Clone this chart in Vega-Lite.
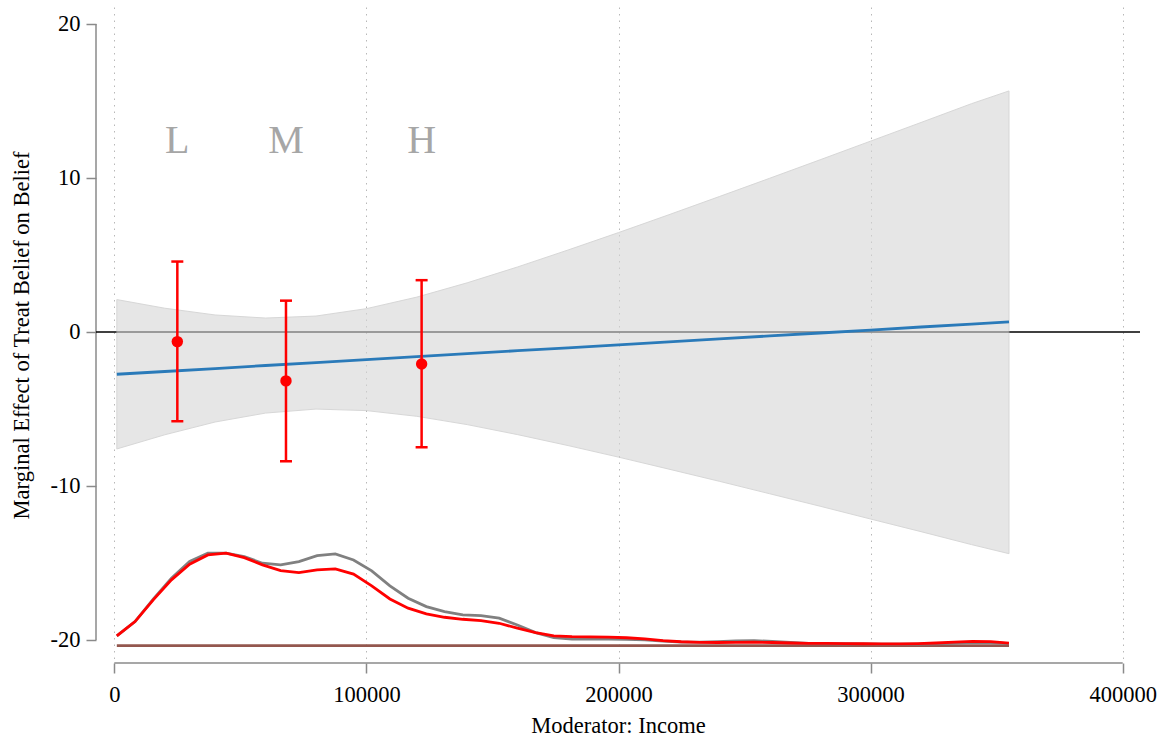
{
  "$schema": "https://vega.github.io/schema/vega-lite/v6.json",
  "autosize": {"type": "none"},
  "padding": {"left": 96, "top": 7, "right": 25, "bottom": 77},
  "width": 1044,
  "height": 656,
  "background": "white",
  "config": {
    "view": {"stroke": null},
    "axis": {
      "domain": false,
      "tickColor": "#8a8a8a",
      "tickWidth": 1.5,
      "tickSize": 10,
      "labelFont": "Liberation Serif",
      "labelFontSize": 22.5,
      "labelColor": "#000000",
      "titleFont": "Liberation Serif",
      "titleFontSize": 22.5,
      "titleFontWeight": "normal",
      "titleColor": "#000000"
    }
  },
  "datasets": {
    "band": [
      {"income": 1000, "lo": -7.60, "hi": 2.10, "est": -2.75},
      {"income": 20000, "lo": -6.68, "hi": 1.54, "est": -2.57},
      {"income": 40000, "lo": -5.85, "hi": 1.10, "est": -2.38},
      {"income": 60000, "lo": -5.27, "hi": 0.90, "est": -2.18},
      {"income": 80000, "lo": -5.01, "hi": 1.03, "est": -1.99},
      {"income": 100000, "lo": -5.11, "hi": 1.51, "est": -1.80},
      {"income": 120000, "lo": -5.48, "hi": 2.26, "est": -1.61},
      {"income": 140000, "lo": -6.02, "hi": 3.19, "est": -1.41},
      {"income": 160000, "lo": -6.67, "hi": 4.22, "est": -1.22},
      {"income": 180000, "lo": -7.38, "hi": 5.32, "est": -1.03},
      {"income": 200000, "lo": -8.13, "hi": 6.45, "est": -0.84},
      {"income": 220000, "lo": -8.91, "hi": 7.61, "est": -0.65},
      {"income": 240000, "lo": -9.70, "hi": 8.79, "est": -0.45},
      {"income": 260000, "lo": -10.51, "hi": 9.98, "est": -0.26},
      {"income": 280000, "lo": -11.32, "hi": 11.18, "est": -0.07},
      {"income": 300000, "lo": -12.15, "hi": 12.39, "est": 0.12},
      {"income": 320000, "lo": -12.97, "hi": 13.60, "est": 0.32},
      {"income": 340000, "lo": -13.81, "hi": 14.82, "est": 0.51},
      {"income": 354900, "lo": -14.40, "hi": 15.65, "est": 0.65}
    ],
    "bins": [
      {"label": "L", "income": 25000, "est": -0.63, "lo": -5.80, "hi": 4.57},
      {"label": "M", "income": 68100, "est": -3.18, "lo": -8.40, "hi": 2.03},
      {"label": "H", "income": 121900, "est": -2.08, "lo": -7.49, "hi": 3.36}
    ],
    "dens": [
      {"income": 1000, "all": -19.74, "sub": -19.74},
      {"income": 8222, "all": -18.81, "sub": -18.81},
      {"income": 15444, "all": -17.35, "sub": -17.40},
      {"income": 22666, "all": -16.00, "sub": -16.10},
      {"income": 29888, "all": -14.91, "sub": -15.08},
      {"income": 37110, "all": -14.37, "sub": -14.48},
      {"income": 44332, "all": -14.37, "sub": -14.37},
      {"income": 51554, "all": -14.59, "sub": -14.66},
      {"income": 58776, "all": -15.02, "sub": -15.13},
      {"income": 65998, "all": -15.13, "sub": -15.50},
      {"income": 73220, "all": -14.91, "sub": -15.63},
      {"income": 80442, "all": -14.53, "sub": -15.45},
      {"income": 87664, "all": -14.42, "sub": -15.39},
      {"income": 94886, "all": -14.81, "sub": -15.73},
      {"income": 102108, "all": -15.52, "sub": -16.49},
      {"income": 109330, "all": -16.49, "sub": -17.34},
      {"income": 116552, "all": -17.29, "sub": -17.94},
      {"income": 123774, "all": -17.84, "sub": -18.31},
      {"income": 130996, "all": -18.16, "sub": -18.53},
      {"income": 138218, "all": -18.38, "sub": -18.66},
      {"income": 145440, "all": -18.42, "sub": -18.75},
      {"income": 152662, "all": -18.59, "sub": -18.92},
      {"income": 159884, "all": -19.03, "sub": -19.24},
      {"income": 167106, "all": -19.53, "sub": -19.53},
      {"income": 174328, "all": -19.85, "sub": -19.74},
      {"income": 181550, "all": -19.94, "sub": -19.79},
      {"income": 188772, "all": -19.95, "sub": -19.80},
      {"income": 195994, "all": -19.95, "sub": -19.82},
      {"income": 203216, "all": -19.97, "sub": -19.86},
      {"income": 210438, "all": -20.00, "sub": -19.93},
      {"income": 217660, "all": -20.08, "sub": -20.05},
      {"income": 224882, "all": -20.14, "sub": -20.12},
      {"income": 232104, "all": -20.15, "sub": -20.16},
      {"income": 239326, "all": -20.12, "sub": -20.17},
      {"income": 246548, "all": -20.07, "sub": -20.16},
      {"income": 253770, "all": -20.05, "sub": -20.15},
      {"income": 260992, "all": -20.10, "sub": -20.17},
      {"income": 268214, "all": -20.17, "sub": -20.20},
      {"income": 275436, "all": -20.22, "sub": -20.22},
      {"income": 282658, "all": -20.24, "sub": -20.23},
      {"income": 289880, "all": -20.25, "sub": -20.24},
      {"income": 297102, "all": -20.26, "sub": -20.25},
      {"income": 304324, "all": -20.27, "sub": -20.26},
      {"income": 311546, "all": -20.27, "sub": -20.26},
      {"income": 318768, "all": -20.27, "sub": -20.24},
      {"income": 325990, "all": -20.25, "sub": -20.20},
      {"income": 333212, "all": -20.20, "sub": -20.14},
      {"income": 340434, "all": -20.16, "sub": -20.10},
      {"income": 347656, "all": -20.17, "sub": -20.11},
      {"income": 354878, "all": -20.24, "sub": -20.21}
    ],
    "base": [
      {"income": 1000, "level": -20.37},
      {"income": 354900, "level": -20.37}
    ],
    "one": [{"id": 1}]
  },
  "layer": [
    {
      "data": {"name": "band"},
      "mark": {"type": "rule", "color": "#000000", "strokeWidth": 1.5, "opacity": 0},
      "encoding": {
        "x": {
          "field": "income", "type": "quantitative",
          "scale": {"domain": [-7260, 406860], "nice": false, "zero": false},
          "axis": {
            "title": "Moderator: Income",
            "values": [0, 100000, 200000, 300000, 400000],
            "format": "d",
            "grid": true,
            "gridDash": [1.5, 5],
            "gridColor": "#b8b8b8",
            "gridWidth": 1,
            "labelPadding": 10,
            "titlePadding": 9
          }
        },
        "y": {
          "field": "est", "type": "quantitative",
          "scale": {"domain": [-21.5, 21.1], "nice": false, "zero": false},
          "axis": {
            "title": "Marginal Effect of Treat Belief on Belief",
            "values": [-20, -10, 0, 10, 20],
            "labelExpr": "'' + datum.value",
            "grid": false,
            "labelPadding": 6,
            "titlePadding": 17
          }
        }
      }
    },
    {
      "data": {"name": "one"},
      "mark": {"type": "rule", "color": "#8a8a8a", "strokeWidth": 1.5},
      "encoding": {
        "x": {"datum": -7260, "type": "quantitative"},
        "y": {"datum": -20, "type": "quantitative"},
        "y2": {"datum": 20}
      }
    },
    {
      "data": {"name": "one"},
      "mark": {"type": "rule", "color": "#8a8a8a", "strokeWidth": 1.5},
      "encoding": {
        "x": {"datum": 0, "type": "quantitative"},
        "x2": {"datum": 400000},
        "y": {"datum": -21.5, "type": "quantitative"}
      }
    },
    {
      "data": {"name": "one"},
      "mark": {"type": "rule", "color": "#000000", "strokeWidth": 1.5},
      "encoding": {
        "x": {"datum": -7260, "type": "quantitative"},
        "x2": {"datum": 406860},
        "y": {"datum": 0, "type": "quantitative"}
      }
    },
    {
      "data": {"name": "band"},
      "mark": {"type": "area", "color": "#d6d6d6", "opacity": 0.6, "stroke": "#bdbdbd", "strokeWidth": 1},
      "encoding": {
        "x": {"field": "income", "type": "quantitative"},
        "y": {"field": "lo", "type": "quantitative"},
        "y2": {"field": "hi"}
      }
    },
    {
      "data": {"name": "band"},
      "mark": {"type": "line", "color": "#2a7ab9", "strokeWidth": 2.8},
      "encoding": {
        "x": {"field": "income", "type": "quantitative"},
        "y": {"field": "est", "type": "quantitative"}
      }
    },
    {
      "data": {"name": "bins"},
      "mark": {"type": "rule", "color": "#ff0000", "strokeWidth": 2.5},
      "encoding": {
        "x": {"field": "income", "type": "quantitative"},
        "y": {"field": "lo", "type": "quantitative"},
        "y2": {"field": "hi"}
      }
    },
    {
      "data": {"name": "bins"},
      "mark": {"type": "tick", "orient": "horizontal", "color": "#ff0000", "size": 12, "thickness": 2.5, "opacity": 1},
      "encoding": {
        "x": {"field": "income", "type": "quantitative"},
        "y": {"field": "lo", "type": "quantitative"}
      }
    },
    {
      "data": {"name": "bins"},
      "mark": {"type": "tick", "orient": "horizontal", "color": "#ff0000", "size": 12, "thickness": 2.5, "opacity": 1},
      "encoding": {
        "x": {"field": "income", "type": "quantitative"},
        "y": {"field": "hi", "type": "quantitative"}
      }
    },
    {
      "data": {"name": "bins"},
      "mark": {"type": "circle", "color": "#ff0000", "size": 130, "opacity": 1},
      "encoding": {
        "x": {"field": "income", "type": "quantitative"},
        "y": {"field": "est", "type": "quantitative"}
      }
    },
    {
      "data": {"name": "bins"},
      "mark": {"type": "text", "font": "Liberation Serif", "fontSize": 40, "color": "#a6a6a6", "baseline": "alphabetic", "align": "center"},
      "encoding": {
        "x": {"field": "income", "type": "quantitative"},
        "y": {"datum": 11.6, "type": "quantitative"},
        "text": {"field": "label"}
      }
    },
    {
      "data": {"name": "base"},
      "mark": {"type": "line", "color": "#93574e", "strokeWidth": 2.8},
      "encoding": {
        "x": {"field": "income", "type": "quantitative"},
        "y": {"field": "level", "type": "quantitative"}
      }
    },
    {
      "data": {"name": "dens"},
      "mark": {"type": "line", "color": "#808080", "strokeWidth": 2.8},
      "encoding": {
        "x": {"field": "income", "type": "quantitative"},
        "y": {"field": "all", "type": "quantitative"}
      }
    },
    {
      "data": {"name": "dens"},
      "mark": {"type": "line", "color": "#ff0000", "strokeWidth": 2.8},
      "encoding": {
        "x": {"field": "income", "type": "quantitative"},
        "y": {"field": "sub", "type": "quantitative"}
      }
    }
  ]
}
